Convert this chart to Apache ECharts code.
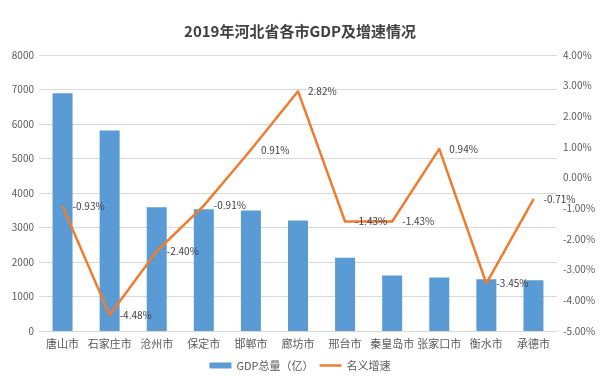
<!DOCTYPE html>
<html><head><meta charset="utf-8">
<script src="https://cdn.jsdelivr.net/npm/echarts@6/dist/echarts.min.js"></script>
<style>html,body{margin:0;padding:0;background:#fff}#c{width:600px;height:378px}</style>
</head><body><div id="c"></div>
<script>
var categories = ['唐山市','石家庄市','沧州市','保定市','邯郸市','廊坊市','邢台市','秦皇岛市','张家口市','衡水市','承德市'];
var gdpValues = [6890, 5810, 3590, 3530, 3490, 3200, 2120, 1610, 1550, 1500, 1470];
var growthValues = [-0.93, -4.48, -2.40, -0.91, 0.91, 2.82, -1.43, -1.43, 0.94, -3.45, -0.71];
var seriesNames = ['GDP总量（亿）', '名义增速'];
var titleText = '2019年河北省各市GDP及增速情况';

var font = '"Noto Sans CJK SC", "Noto Sans", sans-serif';
var chart = echarts.init(document.getElementById('c'), null, {renderer: 'canvas'});
chart.setOption({
  animation: false,
  backgroundColor: '#fff',
  title: {
    text: titleText, left: 'center', top: 19,
    textStyle: {fontFamily: font, fontSize: 15, fontWeight: 'bold', color: '#404040'}
  },
  legend: {
    bottom: 2, left: 'center', itemWidth: 22, itemHeight: 6, itemGap: 6,
    textStyle: {fontFamily: font, fontSize: 11, color: '#595959'},
    data: [
      {name: seriesNames[0], icon: 'rect'},
      {name: seriesNames[1], icon: 'path://M0,0 L22,0 L22,2.5 L0,2.5 Z'}
    ]
  },
  grid: {left: 39, right: 43, top: 55, bottom: 47},
  xAxis: {
    type: 'category', data: categories,
    axisLine: {lineStyle: {color: '#d9d9d9'}},
    axisTick: {show: false},
    axisLabel: {fontFamily: font, fontSize: 11, color: '#595959', margin: 7, interval: 0}
  },
  yAxis: [
    {type: 'value', min: 0, max: 8000, interval: 1000,
     axisLine: {show: false}, axisTick: {show: false},
     splitLine: {lineStyle: {color: '#d9d9d9'}},
     axisLabel: {fontFamily: font, fontSize: 10, color: '#595959', margin: 5,
       formatter: function (v) { return String(v); }}},
    {type: 'value', min: -5, max: 4, interval: 1,
     axisLine: {show: false}, axisTick: {show: false},
     splitLine: {show: false},
     axisLabel: {fontFamily: font, fontSize: 10, color: '#595959', margin: 6,
       formatter: function (v) { return v.toFixed(2) + '%'; }}}
  ],
  series: [
    {name: seriesNames[0], type: 'bar', data: gdpValues, barWidth: 20,
     itemStyle: {color: '#5b9bd5'}},
    {name: seriesNames[1], type: 'line', yAxisIndex: 1, data: growthValues,
     symbol: 'circle', symbolSize: 2, showSymbol: true,
     lineStyle: {color: '#ed7d31', width: 2.5},
     itemStyle: {color: '#ed7d31'},
     label: {show: true, position: 'right', distance: 9,
       fontFamily: font, fontSize: 10, color: '#404040',
       formatter: function (p) { return p.value.toFixed(2) + '%'; }}}
  ]
});
</script></body></html>
